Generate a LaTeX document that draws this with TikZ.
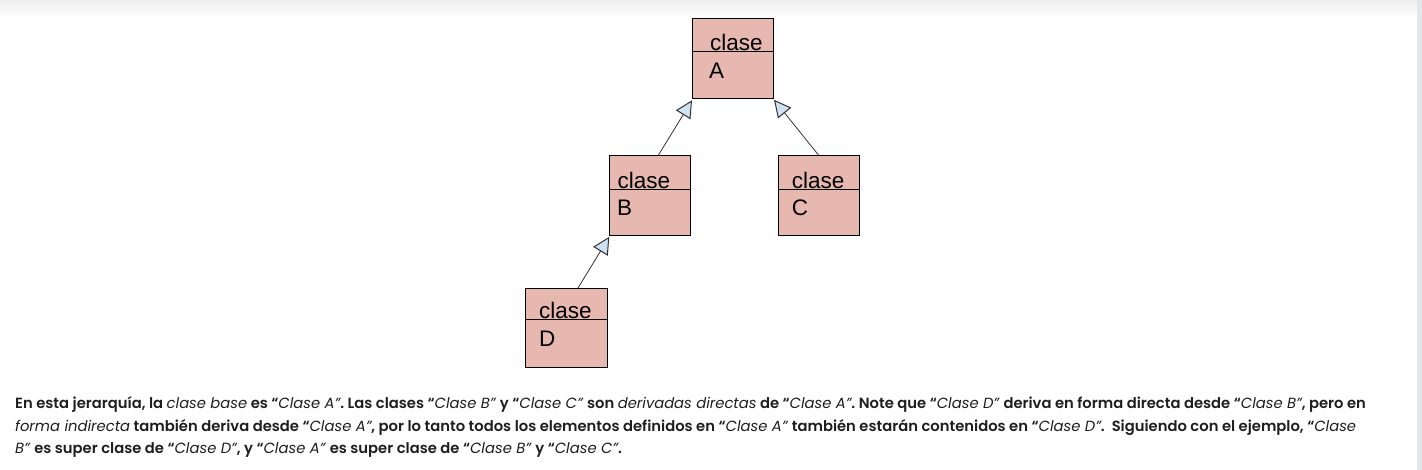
\documentclass[tikz,border=0pt]{standalone}
\usepackage{fontspec}
\setmainfont{Liberation Sans}
\newfontfamily\bodyfont{Poppins}[UprightFont=* SemiBold, ItalicFont=* Italic]
\usetikzlibrary{arrows.meta,calc}
\definecolor{boxfill}{HTML}{E6B8AF}
\definecolor{arrowblue}{HTML}{CFE2F3}
\definecolor{linegray}{HTML}{333333}
\definecolor{bodytext}{HTML}{1E1E1E}
\definecolor{topband}{HTML}{EEEEEE}
\definecolor{sidestrip}{HTML}{E3E7E9}
\begin{document}
\begin{tikzpicture}[x=1pt,y=-1pt,
  cls/.style={draw=black, line width=1pt, fill=boxfill, minimum width=81pt, minimum height=80pt, inner sep=0pt, anchor=north west},
  lbl/.style={font=\fontsize{22.5}{22.5}\selectfont, inner sep=0pt, anchor=base west},
  inh/.style={draw=linegray, line width=0.8pt, -{Triangle[length=17pt,width=17pt,fill=arrowblue,line width=1pt]}},
  body/.style={font=\bodyfont\fontsize{14.75}{14.75}\selectfont, text=bodytext, inner sep=0pt, anchor=base west}]
\useasboundingbox (0,0) rectangle (1422,470);
\shade[top color=topband, bottom color=white] (0,0) rectangle (1417,18);
\fill[sidestrip] (1417,0) rectangle (1422,470);
% boxes
\node[cls] (A) at (692,18.3) {};
\node[cls] (B) at (609.3,155.3) {};
\node[cls] (C) at (777.7,155.3) {};
\node[cls, minimum height=78.4pt, minimum width=82pt] (D) at (525.3,288.3) {};
\draw[line width=1pt] ($(A.north west)+(0,33.4)$) -- ($(A.north east)+(0,33.4)$);
\draw[line width=1pt] ($(B.north west)+(0,34)$) -- ($(B.north east)+(0,34)$);
\draw[line width=1pt] ($(C.north west)+(0,34)$) -- ($(C.north east)+(0,34)$);
\draw[line width=1pt] ($(D.north west)+(0,31)$) -- ($(D.north east)+(0,31)$);
% labels
\node[lbl] (At) at (710,51) {clase};
\node[lbl] (Al) at (709,79) {A};
\node[lbl] (Bt) at (617.3,188.7) {clase};
\node[lbl] (Bl) at (617,215.5) {B};
\node[lbl] (Ct) at (791.7,188.7) {clase};
\node[lbl] (Cl) at (791.7,215.5) {C};
\node[lbl] (Dt) at (539,318.3) {clase};
\node[lbl] (Dl) at (539,346) {D};
% inheritance
\draw[inh] ([xshift=8pt]B.north) -- ([yshift=-1pt]A.south west);
\draw[inh] (C.north) -- ([yshift=-0.5pt]A.south east);
\draw[inh] ([xshift=11pt]D.north) -- ([yshift=-0.5pt]B.south west);
% text
\node[body] (L1) at (15,408.5) {En esta jerarquía, la \textit{clase base} es “\textit{Clase A”}. Las clases “\textit{Clase B”} y “\textit{Clase C”} son \textit{derivadas directas} de “\textit{Clase A”}. Note que “\textit{Clase D”} deriva en forma directa desde “\textit{Clase B”}, pero en};
\node[body] (L2) at (15,431) {\textit{forma indirecta} también deriva desde “\textit{Clase A”}, por lo tanto todos los elementos definidos en “\textit{Clase A”} también estarán contenidos en “\textit{Clase D”}.\ \ Siguiendo con el ejemplo, “\textit{Clase}};
\node[body] (L3) at (15,453.5) {\textit{B”} es super clase de “\textit{Clase D”}, y “\textit{Clase A”} es super clase de “\textit{Clase B”} y “\textit{Clase C”}.};
\end{tikzpicture}
\end{document}
